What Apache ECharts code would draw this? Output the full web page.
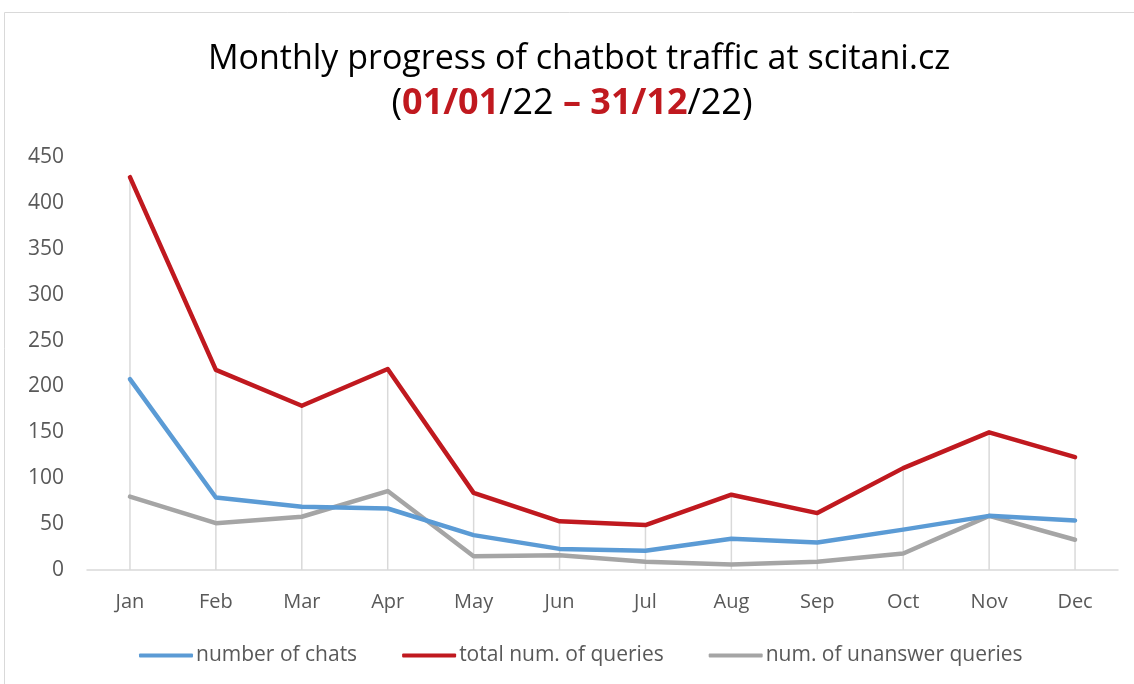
<!DOCTYPE html>
<html>
<head>
<meta charset="utf-8">
<script src="https://cdn.jsdelivr.net/npm/echarts@6/dist/echarts.min.js"></script>
<style>
  html, body { margin: 0; padding: 0; background: #fff; }
</style>
</head>
<body>
<div id="chart" style="width:1134px;height:684px"></div>
<script>
// data
var months = ["Jan", "Feb", "Mar", "Apr", "May", "Jun", "Jul", "Aug", "Sep", "Oct", "Nov", "Dec"];
var chats = [208, 79, 69, 67, 38, 23, 21, 34, 30, 44, 59, 54];
var queries = [428, 218, 179, 219, 84, 53, 49, 82, 62, 111, 150, 123];
var unanswered = [80, 51, 58, 86, 15, 16, 9, 6, 9, 18, 59, 33];
var yTicks = [0, 450, 50]; // min, max, step

var font = '"Open Sans", sans-serif';
var red = "#C0191F";

var myChart = echarts.init(document.getElementById("chart"));
var option = {
  backgroundColor: "#fff",
  textStyle: { fontFamily: font },
  graphic: [{
    type: "rect",
    shape: { x: 4.5, y: 12.5, width: 1140, height: 680 },
    style: { fill: "none", stroke: "#d9d9d9", lineWidth: 1 },
    silent: true
  }],
  title: [
    {
      text: "Monthly progress of chatbot traffic at scitani.cz",
      left: 574, top: 37, textAlign: "center",
      textStyle: { fontFamily: font, fontSize: 34, fontWeight: "normal", color: "#000" }
    },
    {
      text: "{b|(}{r|01/01}{b|/22 }{r|– 31/12}{b|/22)}",
      left: 567, top: 81, textAlign: "center",
      textStyle: {
        fontFamily: font, fontSize: 36, fontWeight: "normal",
        rich: {
          b: { fontFamily: font, fontSize: 36, color: "#000", fontWeight: "normal" },
          r: { fontFamily: font, fontSize: 36, color: red, fontWeight: "bold" }
        }
      }
    }
  ],
  legend: {
    bottom: 13,
    left: 134,
    itemGap: 45,
    itemWidth: 54,
    itemHeight: 4,
    icon: "roundRect",
    data: ["number of chats", "total num. of queries", "num. of unanswer queries"],
    textStyle: { fontFamily: font, fontSize: 21, color: "#595959", padding: [0, 0, 0, -2] }
  },
  grid: { left: 87, right: 16, top: 157, bottom: 114, containLabel: false },
  xAxis: {
    type: "category",
    data: months,
    boundaryGap: true,
    axisLine: { lineStyle: { color: "#d9d9d9", width: 1.5 } },
    axisTick: { show: false },
    axisLabel: { color: "#595959", fontSize: 20, margin: 22, fontFamily: font }
  },
  yAxis: {
    type: "value",
    min: yTicks[0], max: yTicks[1], interval: yTicks[2],
    axisLine: { show: false },
    axisTick: { show: false },
    splitLine: { show: false },
    axisLabel: { color: "#595959", fontSize: 21, margin: 23, fontFamily: font, padding: [3, 0, 0, 0] }
  },
  series: [
    {
      // drop lines up to the highest series
      name: "drop",
      type: "bar",
      data: queries,
      barWidth: 1.5,
      itemStyle: { color: "#d9d9d9" },
      silent: true,
      z: 1
    },
    {
      name: "number of chats",
      type: "line",
      data: chats,
      symbol: "none",
      lineStyle: { color: "#5B9BD5", width: 4.5, cap: "round", join: "round" },
      itemStyle: { color: "#5B9BD5" },
      z: 3
    },
    {
      name: "total num. of queries",
      type: "line",
      data: queries,
      symbol: "none",
      lineStyle: { color: red, width: 4.5, cap: "round", join: "round" },
      itemStyle: { color: red },
      z: 4
    },
    {
      name: "num. of unanswer queries",
      type: "line",
      data: unanswered,
      symbol: "none",
      lineStyle: { color: "#A5A5A5", width: 4.5, cap: "round", join: "round" },
      itemStyle: { color: "#A5A5A5" },
      z: 2
    }
  ]
};
myChart.setOption(option);
</script>
</body>
</html>
